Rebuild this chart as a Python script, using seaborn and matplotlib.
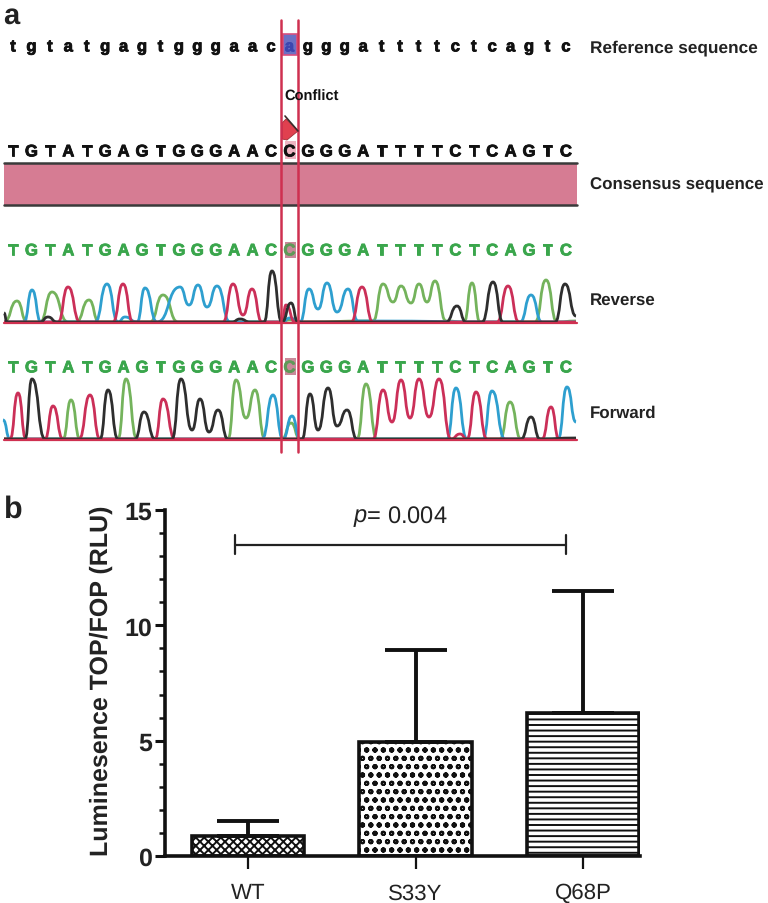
import numpy as np
import pandas as pd
import seaborn as sns
import matplotlib.pyplot as plt
import matplotlib.patheffects as pe
from matplotlib.path import Path
from matplotlib.patches import PathPatch, Polygon, Rectangle

# panel b values
groups = ['WT', 'S33Y', 'Q68P']
means = [0.85, 4.95, 6.2]
errors = [0.65, 4.0, 5.3]
hatches = ['xxxx', 'oo', '---']

# panel a sequences
ref_seq = 'tgtatgagtgggaacagggattttctcagtc'
call_seq = 'TGTATGAGTGGGAACCGGGATTTTCTCAGTC'

# chromatogram peaks and valleys, scan position / signal height
rev_green_x = [4, 17, 27, 40, 52, 68, 76, 89, 99, 150, 163, 178, 280, 290, 300, 373, 383, 393, 401, 411, 419, 427, 435, 446, 464, 472, 480, 535, 546, 557, 576]
rev_green_h = [1, 22, 1, 1, 31, 1, 1, 23, 1, 1, 28, 1, 1, 3, 1, 2, 39, 21, 37, 20, 39, 21, 42, 2, 1, 40, 1, 1, 43, 1, 2]
rev_blue_x = [4, 24, 32, 41, 95, 107, 118, 125, 137, 145, 157, 180, 189, 198, 207, 217, 230, 282, 290, 300, 309, 318, 327, 337, 348, 358, 520, 531, 542, 576]
rev_blue_h = [1, 1, 33, 1, 1, 39, 1, 6, 1, 35, 1, 36, 18, 38, 16, 37, 1, 1, 5, 1, 34, 14, 40, 11, 34, 2, 1, 28, 1, 1]
rev_red_x = [4, 58, 68, 80, 113, 123, 133, 223, 233, 243, 252, 262, 282, 286, 295, 351, 362, 373, 497, 508, 519, 576]
rev_red_h = [1, 1, 36, 1, 1, 39, 1, 1, 39, 8, 34, 1, 1, 18, 1, 1, 36, 1, 1, 37, 1, 1]
rev_black_x = [4, 7, 40, 48, 57, 232, 240, 250, 264, 272, 282, 291, 298, 446, 457, 466, 482, 493, 503, 555, 565, 576]
rev_black_h = [10, 1, 1, 6, 1, 1, 4, 1, 1, 52, 1, 20, 1, 1, 17, 1, 1, 41, 1, 1, 39, 7]

fwd_green_x = [4, 63, 71, 80, 118, 126, 137, 228, 236, 246, 255, 265, 282, 291, 300, 357, 366, 377, 500, 510, 521, 576]
fwd_green_h = [1, 1, 40, 1, 1, 61, 1, 1, 60, 22, 50, 1, 1, 17, 1, 1, 56, 1, 1, 38, 1, 1]
fwd_blue_x = [3, 10, 262, 273, 283, 292, 300, 447, 456, 467, 483, 492, 505, 558, 567, 576]
fwd_blue_h = [20, 1, 1, 45, 1, 24, 1, 1, 52, 1, 1, 49, 1, 1, 53, 18]
fwd_red_x = [4, 10, 18, 26, 45, 53, 63, 79, 90, 100, 155, 163, 175, 373, 383, 392, 401, 410, 419, 429, 439, 451, 460, 467, 476, 487, 542, 551, 559, 576]
fwd_red_h = [1, 1, 47, 1, 1, 34, 1, 1, 45, 1, 1, 41, 1, 1, 50, 18, 60, 22, 61, 23, 61, 1, 6, 1, 48, 1, 1, 33, 1, 1]
fwd_black_x = [4, 25, 32, 45, 100, 108, 118, 135, 144, 155, 172, 181, 192, 200, 209, 218, 228, 302, 310, 318, 328, 337, 347, 357, 521, 531, 540, 576]
fwd_black_h = [1, 1, 61, 1, 1, 50, 1, 1, 28, 1, 1, 61, 10, 41, 8, 30, 1, 1, 46, 10, 52, 14, 30, 1, 1, 23, 1, 2]

GREEN = '#74b35c'
BLUE = '#2e9fcf'
RED = '#cb2f58'
BLACK = '#2e2e2e'
LINE_RED = '#cf3050'


def draw_trace(ax, xs, hs, base, color):
    # smooth curve, flat tangent at each read peak and valley
    verts = [(xs[0], base - hs[0])]
    codes = [Path.MOVETO]
    for i in range(1, len(xs)):
        step = (xs[i] - xs[i - 1]) * 0.55
        verts += [(xs[i - 1] + step, base - hs[i - 1]), (xs[i] - step, base - hs[i]), (xs[i], base - hs[i])]
        codes += [Path.CURVE4] * 3
    ax.add_patch(PathPatch(Path(verts, codes), fc='none', ec=color, lw=2.0))


def seq_text(ax, x, y, s, color):
    t = ax.text(x, y, s, ha='center', va='center', fontsize=12, fontweight='bold', color=color)
    t.set_path_effects([pe.withStroke(linewidth=0.6, foreground=color)])


sns.set_theme(style='ticks')
plt.rcParams['font.family'] = ['Liberation Sans', 'DejaVu Sans']
plt.rcParams['mathtext.fontset'] = 'custom'
plt.rcParams['mathtext.it'] = 'Liberation Sans:italic'
plt.rcParams['mathtext.rm'] = 'Liberation Sans'
plt.rcParams['hatch.linewidth'] = 1.4
plt.rcParams['text.hinting'] = 'none'

fig = plt.figure(figsize=(7.68, 9.04), dpi=100)

# panel a, axes in scan position
ax_a = fig.add_axes([0, 1 - 460 / 904, 1, 460 / 904])
ax_a.set_xlim(0, 768)
ax_a.set_ylim(460, 0)
ax_a.axis('off')

base_x = 13 + 18.43 * np.arange(len(call_seq))
ax_a.add_patch(Rectangle((283, 35), 14, 21, fc='#6c70c4', ec='#d84f80', lw=1.2))
ax_a.add_patch(Rectangle((285, 142), 11, 18, fc='#eeb4c2', ec='none'))
ax_a.add_patch(Rectangle((285, 243), 11, 16, fc='#c98a9a', ec='none'))
ax_a.add_patch(Rectangle((285, 359), 11, 17, fc='#c98a9a', ec='none'))

for i, x in enumerate(base_x):
    conflict = i == 15
    seq_text(ax_a, x, 48, ref_seq[i], '#3c46b0' if conflict else '#111111')
    seq_text(ax_a, x, 153, call_seq[i], '#111111')
    seq_text(ax_a, x, 252, call_seq[i], '#5f9a58' if conflict else '#3aa64c')
    seq_text(ax_a, x, 369, call_seq[i], '#5f9a58' if conflict else '#3aa64c')

# consensus bar
ax_a.add_patch(Rectangle((4, 164), 573, 42, fc='#d67c93', ec='none'))
ax_a.plot([4, 577], [164, 164], color='#3a3a3a', lw=1.8)
ax_a.plot([4, 577], [206, 206], color='#3a3a3a', lw=1.8)

draw_trace(ax_a, rev_green_x, rev_green_h, 324, GREEN)
draw_trace(ax_a, rev_blue_x, rev_blue_h, 324, BLUE)
draw_trace(ax_a, rev_red_x, rev_red_h, 324, RED)
draw_trace(ax_a, rev_black_x, rev_black_h, 324, BLACK)
draw_trace(ax_a, fwd_green_x, fwd_green_h, 441, GREEN)
draw_trace(ax_a, fwd_blue_x, fwd_blue_h, 441, BLUE)
draw_trace(ax_a, fwd_red_x, fwd_red_h, 441, RED)
draw_trace(ax_a, fwd_black_x, fwd_black_h, 441, BLACK)
ax_a.plot([4, 577], [324, 324], color=LINE_RED, lw=1.6)
ax_a.plot([4, 577], [441, 441], color=LINE_RED, lw=1.6)

ax_a.plot([281, 281], [21, 453], color=LINE_RED, lw=1.8)
ax_a.plot([298, 298], [21, 453], color=LINE_RED, lw=1.8)

ax_a.add_patch(Polygon([(282, 124), (286, 120), (298, 132), (287, 141), (282, 140)],
                       fc='#e0404f', ec='#a03038', lw=0.6))
ax_a.plot([285, 298], [117, 132], color='#3a2a2a', lw=1.2)
ax_a.text(284, 97, 'Conflict', ha='left', va='center', fontsize=10.5, fontweight='bold', color='#111111')

ax_a.text(590, 48, 'Reference sequence', ha='left', va='center', fontsize=12.4, fontweight='bold', color='#222222')
ax_a.text(590, 185, 'Consensus sequence', ha='left', va='center', fontsize=12.2, fontweight='bold', color='#222222')
ax_a.text(590, 300, 'Reverse', ha='left', va='center', fontsize=12.2, fontweight='bold', color='#222222')
ax_a.text(590, 413, 'Forward', ha='left', va='center', fontsize=12.2, fontweight='bold', color='#222222')
ax_a.text(3, 24, 'a', ha='left', va='baseline', fontsize=21, fontweight='bold', color='#222222')

# panel b
ax_b = fig.add_axes([165 / 768, 1 - 857 / 904, (640 - 165) / 768, (857 - 511) / 904])
df = pd.DataFrame({'group': groups, 'value': means})
sns.barplot(data=df, x='group', y='value', color='white', width=0.67, saturation=1,
            edgecolor='#111111', linewidth=2.6, ax=ax_b)
for bar, h in zip(ax_b.patches, hatches):
    bar.set_hatch(h)
ax_b.errorbar(range(3), means, yerr=[[0, 0, 0], errors], fmt='none', ecolor='#111111',
              elinewidth=2.8, capsize=22, capthick=2.8, zorder=1)

ax_b.set_xlim(-0.496, 2.34)
ax_b.set_ylim(0, 15)
ax_b.set_yticks([0, 5, 10, 15])
ax_b.set_yticks(np.arange(0, 16), minor=True)
sns.despine(ax=ax_b)
ax_b.spines['left'].set_linewidth(2.6)
ax_b.spines['bottom'].set_linewidth(2.6)
ax_b.spines['left'].set_color('#111111')
ax_b.spines['bottom'].set_color('#111111')
ax_b.tick_params(axis='y', which='major', length=7, width=2.2, color='#111111', pad=2.5)
ax_b.tick_params(axis='y', which='minor', length=4, width=1.8, color='#111111')
ax_b.tick_params(axis='x', length=9, width=1.6, color='#111111', pad=10)
ax_b.set_xlabel('')
ax_b.set_ylabel('Luminesence TOP/FOP (RLU)', fontsize=18, fontweight='bold', color='#222222')
ax_b.yaxis.set_label_coords(-0.109, 0.51)
for lab in ax_b.get_yticklabels():
    lab.set_fontsize(18)
    lab.set_fontweight('bold')
    lab.set_color('#222222')
for lab in ax_b.get_xticklabels():
    lab.set_fontsize(16)
    lab.set_color('#222222')

# significance bracket
ax_b.plot([-0.08, 1.9], [13.5, 13.5], color='#222222', lw=1.6, clip_on=False)
ax_b.plot([-0.08, -0.08], [13.1, 13.9], color='#222222', lw=1.6)
ax_b.plot([1.9, 1.9], [13.1, 13.9], color='#222222', lw=1.6)
ax_b.text(0.91, 14.72, r'$\mathit{p}$= 0.004', ha='center', va='center', fontsize=17, color='#222222')

fig.text(4 / 768, 1 - 510 / 904, 'b', ha='left', va='center', fontsize=22, fontweight='bold', color='#222222')

plt.savefig('out.png', dpi=100)
